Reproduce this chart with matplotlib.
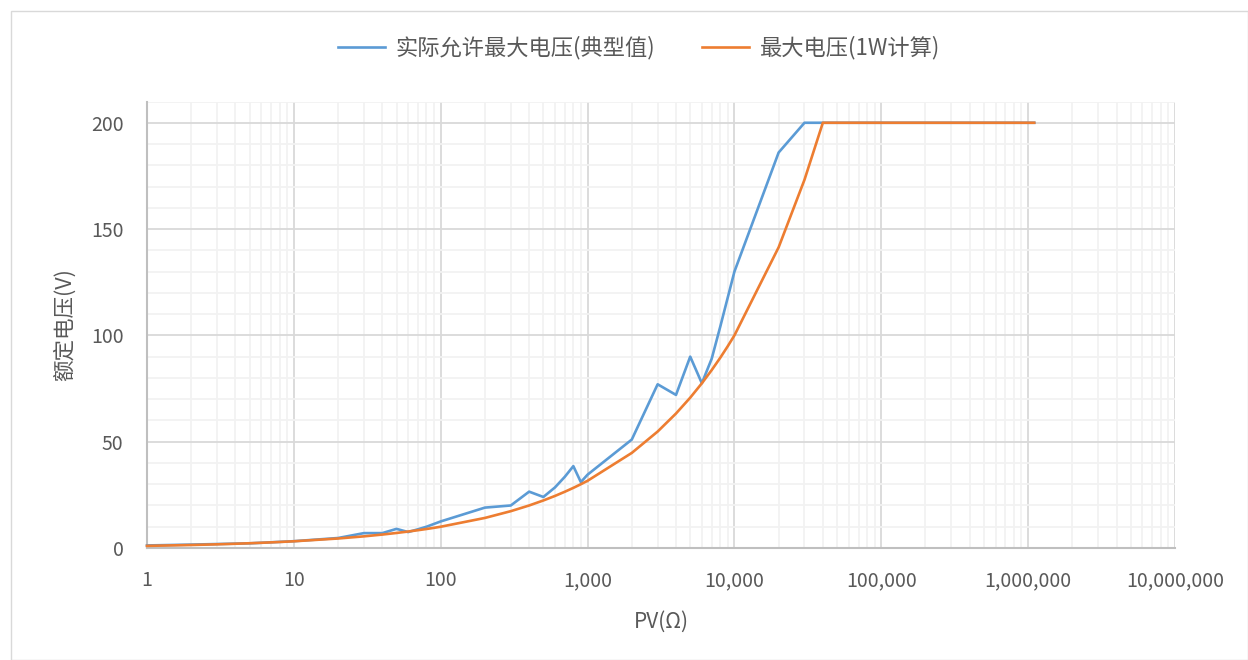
import matplotlib
matplotlib.use("Agg")
import matplotlib.pyplot as plt
from matplotlib.ticker import FixedLocator, FuncFormatter, NullFormatter
from matplotlib.patches import Rectangle

plt.rcParams['font.family'] = ['Noto Sans CJK SC', 'DejaVu Sans']

# Data
pv_actual = [1, 2, 5, 10, 20, 30, 40, 50, 60, 70, 80, 100, 200, 300, 400, 500, 600, 700,
             800, 900, 1000, 2000, 3000, 4000, 5000, 6000, 7000, 8000, 10000, 20000,
             30000, 40000, 1100000]
v_actual = [1.2, 1.6, 2.2, 3.2, 4.7, 7.0, 7.0, 9.0, 7.5, 8.8, 10.0, 12.5, 19.0, 20.0, 26.5,
            24.0, 28.5, 33.5, 38.5, 31.0, 34.5, 51.0, 77.0, 72.0, 90.0, 77.5, 89.0, 104.0,
            130.0, 186.0, 200.0, 200.0, 200.0]

pv_calc = [1, 2, 3, 4, 5, 6, 7, 8, 9,
           10, 20, 30, 40, 50, 60, 70, 80, 90,
           100, 200, 300, 400, 500, 600, 700, 800, 900,
           1000, 2000, 3000, 4000, 5000, 6000, 7000, 8000, 9000,
           10000, 20000, 30000, 40000, 1100000]
v_calc = [1.0, 1.41, 1.73, 2.0, 2.24, 2.45, 2.65, 2.83, 3.0,
          3.16, 4.47, 5.48, 6.32, 7.07, 7.75, 8.37, 8.94, 9.49,
          10.0, 14.14, 17.32, 20.0, 22.36, 24.49, 26.46, 28.28, 30.0,
          31.62, 44.72, 54.77, 63.25, 70.71, 77.46, 83.67, 89.44, 94.87,
          100.0, 141.42, 173.21, 200.0, 200.0]

label_actual = '实际允许最大电压(典型值)'
label_calc = '最大电压(1W计算)'
x_ticks = [1, 10, 100, 1000, 10000, 100000, 1000000, 10000000]
y_ticks = [0, 50, 100, 150, 200]

txt = '#595959'

fig = plt.figure(figsize=(12.48, 6.6), dpi=100)
fig.patches.append(Rectangle((11/1248, 0), 1 - 11/1248, 1 - 11/660, transform=fig.transFigure,
                             fill=False, edgecolor='#d9d9d9', linewidth=1.0))
ax = fig.add_axes([147/1248, 112/660, (1175-147)/1248, (548-101.5)/660])

ax.set_xscale('log')
ax.set_xlim(1, 1e7)
ax.set_ylim(0, 210)

minor_x = [m * 10**e for e in range(0, 7) for m in range(2, 10)]
ax.xaxis.set_major_locator(FixedLocator(x_ticks))
ax.xaxis.set_minor_locator(FixedLocator(minor_x))
ax.xaxis.set_major_formatter(FuncFormatter(lambda v, p: f'{int(round(v)):,}'))
ax.xaxis.set_minor_formatter(NullFormatter())
ax.yaxis.set_major_locator(FixedLocator(y_ticks))
ax.yaxis.set_minor_locator(FixedLocator([v for v in range(10, 211, 10) if v % 50]))

ax.grid(which='minor', color='#f2f2f2', linewidth=1.3)
ax.grid(which='major', color='#d9d9d9', linewidth=1.3)
ax.set_axisbelow(True)

for s in ['top', 'right']:
    ax.spines[s].set_visible(False)
for s in ['left', 'bottom']:
    ax.spines[s].set_color('#bfbfbf')
    ax.spines[s].set_linewidth(1.5)

ax.tick_params(which='both', length=0)
ax.tick_params(axis='x', pad=16, labelsize=14, labelcolor=txt)
ax.tick_params(axis='y', pad=17, labelsize=14, labelcolor=txt)

ax.plot(pv_actual, v_actual, color='#5B9BD5', linewidth=1.9, label=label_actual, clip_on=False, zorder=3)
ax.plot(pv_calc, v_calc, color='#ED7D31', linewidth=1.9, label=label_calc, clip_on=False, zorder=4)

ax.set_xlabel('PV(Ω)', fontsize=15, color=txt, labelpad=14)
ax.set_ylabel('额定电压(V)', fontsize=15.5, color=txt, labelpad=11)

fig.legend(loc='center', bbox_to_anchor=(0.512, 0.928), ncol=2, frameon=False,
           fontsize=16, labelcolor=txt, handlelength=2.1, columnspacing=2.1, handletextpad=0.5)

fig.savefig('out.png', dpi=100)
